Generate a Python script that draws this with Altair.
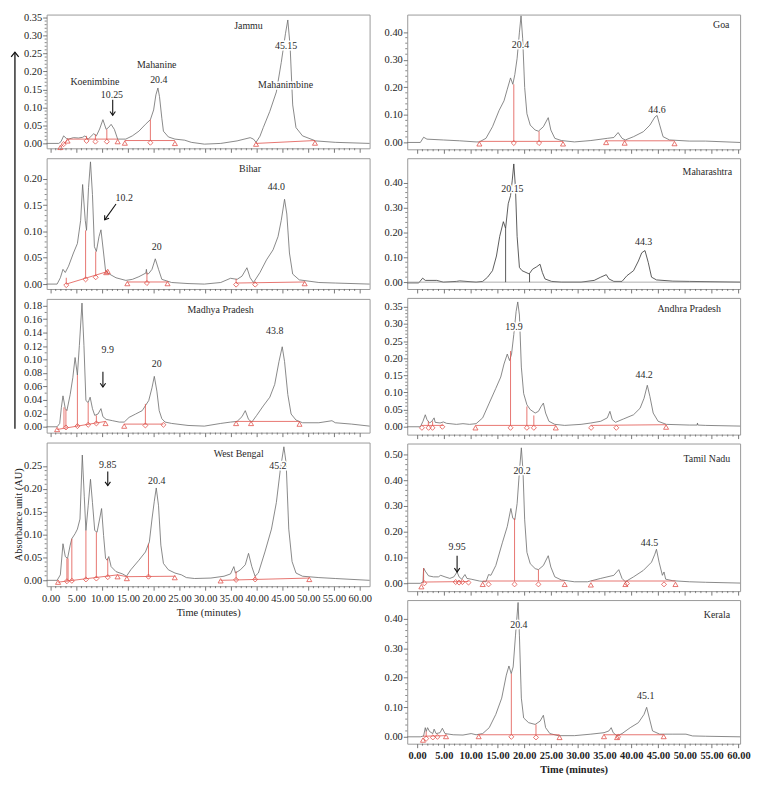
import altair as alt
import pandas as pd

RED = "#e0524c"
GRAY = "#6a6a6a"
FONT = "Liberation Serif"

# ======================= LEFT COLUMN =======================
JAMMU_CURVE = [(-0.76,0.0),(1.59,0.0),(2.03,0.005),(2.54,0.021),(3.05,0.014),(3.49,0.012),(4.44,0.016),(5.40,0.015),(6.22,0.017),(6.67,0.021),(7.30,0.012),(8.38,0.027),(8.89,0.021),(9.52,0.040),(10.16,0.066),(10.79,0.039),(11.30,0.045),(11.75,0.053),(12.38,0.039),(13.02,0.012),(14.60,0.012),(15.87,0.021),(17.14,0.034),(18.41,0.053),(19.37,0.066),(20.00,0.093),(20.44,0.135),(20.83,0.154),(21.14,0.130),(21.59,0.070),(21.90,0.034),(22.86,0.018),(24.13,0.012),(26.03,0.009),(27.30,0.003),(29.84,-0.002),(33.02,0.0),(36.19,0.007),(38.73,0.016),(39.37,0.012),(39.87,0.003),(40.63,0.020),(41.27,0.044),(42.54,0.089),(43.81,0.143),(44.76,0.225),(45.59,0.306),(46.03,0.343),(46.48,0.270),(46.98,0.107),(47.62,0.044),(48.89,0.021),(51.43,0.007),(55.24,0.003),(61.9,0.0)]
JAMMU_BASE = [(1.90,-0.011,3.30,0.010),(3.30,0.012,13.02,0.012),(14.41,0.008,24.13,0.008),(39.87,0.0,51.3,0.008)]
JAMMU_DROP = [(6.98,0.012,0.021),(8.70,0.012,0.025),(10.92,0.012,0.039),(19.37,0.008,0.066)]
JAMMU_TRI = [(1.90,-0.011),(3.30,0.007),(13.02,0.005),(14.41,0.001),(24.13,0.0),(39.87,-0.002),(51.3,0.001)]
JAMMU_DIA = [(2.54,-0.002),(6.98,0.007),(8.70,0.005),(10.92,0.005),(19.37,0.002)]
JAMMU_TEXT = [("Jammu",38.4,0.326),("45.15",45.7,0.270),("Mahanimbine",45.6,0.163),("Mahanine",20.6,0.218),("20.4",21.0,0.175),("Koenimbine",8.6,0.170),("10.25",11.9,0.134)]
JAMMU_ARROW = [(12.06,0.121,12.06,0.078)]

BIHAR_CURVE = [(-0.76,0.0),(1.27,0.0),(1.90,0.012),(2.41,0.028),(2.86,0.022),(3.49,0.034),(4.44,0.059),(5.21,0.077),(5.84,0.121),(6.22,0.189),(6.73,0.121),(6.98,0.102),(7.37,0.183),(7.75,0.232),(8.13,0.170),(8.51,0.071),(8.89,0.062),(9.40,0.090),(9.78,0.103),(10.29,0.059),(10.67,0.025),(11.43,0.019),(12.70,0.012),(14.60,0.007),(15.87,0.009),(17.14,0.014),(18.50,0.021),(18.60,0.028),(18.70,0.019),(19.05,0.020),(19.68,0.028),(20.32,0.048),(20.95,0.028),(21.59,0.009),(23.49,0.003),(26.67,0.001),(29.84,0.0),(33.02,0.003),(34.92,0.011),(36.19,0.009),(37.14,0.015),(38.10,0.031),(38.73,0.012),(39.37,0.003),(40.63,0.022),(41.90,0.046),(43.17,0.065),(44.13,0.090),(44.76,0.121),(45.40,0.161),(45.84,0.133),(46.35,0.059),(46.98,0.019),(48.25,0.008),(52.06,0.003),(55.24,0.002),(61.9,0.0)]
BIHAR_BASE = [(3.05,0.0,11.1,0.024),(14.9,0.004,22.7,0.004),(36.0,0.002,49.3,0.004)]
BIHAR_DROP = [(3.05,0.0,0.012),(6.8,0.011,0.102),(8.76,0.015,0.062),(18.7,0.004,0.022),(36.0,0.002,0.010),(39.7,0.002,0.005)]
BIHAR_TRI = [(10.8,0.022),(11.1,0.024),(14.9,0.001),(22.7,0.001),(49.3,0.001)]
BIHAR_DIA = [(3.05,-0.002),(6.8,0.009),(8.76,0.013),(18.7,0.002),(36.0,-0.001),(39.7,-0.001)]
BIHAR_TEXT = [("Bihar",38.7,0.219),("44.0",43.8,0.185),("10.2",14.3,0.164),("20",20.6,0.070)]
BIHAR_ARROW = [(12.7,0.152,10.5,0.122)]

MP_CURVE = [(-0.76,0.0),(1.27,0.0),(1.78,0.005),(2.10,0.029),(2.41,0.046),(2.86,0.027),(3.17,0.024),(3.81,0.048),(4.32,0.073),(4.76,0.103),(5.21,0.077),(5.59,0.121),(6.10,0.184),(6.48,0.121),(6.86,0.039),(7.30,0.036),(7.68,0.044),(8.13,0.027),(8.57,0.017),(9.21,0.019),(9.78,0.027),(10.16,0.015),(10.79,0.011),(12.06,0.009),(13.33,0.007),(14.29,0.007),(15.24,0.014),(16.51,0.019),(17.78,0.024),(19.05,0.039),(19.68,0.058),(20.13,0.075),(20.63,0.053),(21.08,0.024),(21.59,0.012),(22.22,0.007),(23.49,0.005),(26.67,0.002),(29.84,0.001),(33.02,0.005),(34.92,0.007),(36.19,0.008),(37.14,0.015),(37.78,0.024),(38.41,0.011),(39.05,0.007),(40.0,0.017),(41.27,0.031),(42.54,0.044),(43.49,0.063),(44.32,0.097),(44.95,0.119),(45.40,0.097),(46.03,0.048),(46.67,0.019),(47.62,0.010),(48.89,0.006),(52.06,0.006),(54.60,0.009),(55.24,0.006),(58.41,0.004),(61.9,0.001)]
MP_BASE = [(1.27,-0.004,10.67,0.008),(14.29,0.004,21.9,0.004),(36.0,0.008,48.3,0.008)]
MP_DROP = [(2.6,-0.001,0.029),(2.98,-0.001,0.026),(5.21,0.001,0.077),(7.30,0.004,0.036),(8.89,0.006,0.017),(18.4,0.004,0.034)]
MP_TRI = [(1.27,-0.004),(10.67,0.005),(14.29,0.001),(36.0,0.005),(38.9,0.005),(48.3,0.004)]
MP_DIA = [(2.98,-0.001),(5.21,0.001),(7.30,0.003),(8.89,0.005),(18.4,0.002),(21.9,0.003)]
MP_TEXT = [("Madhya Pradesh",33.0,0.173),("43.8",43.5,0.143),("9.9",11.1,0.114),("20",20.6,0.094)]
MP_ARROW = [(10.16,0.082,10.16,0.059)]

WB_CURVE = [(-0.76,0.0),(1.27,0.0),(1.90,0.012),(2.41,0.080),(2.86,0.052),(3.30,0.048),(3.81,0.077),(4.13,0.091),(4.76,0.102),(5.21,0.112),(5.71,0.134),(6.16,0.274),(6.54,0.184),(6.86,0.109),(7.30,0.163),(7.75,0.221),(8.13,0.170),(8.57,0.109),(9.02,0.105),(9.52,0.134),(9.90,0.157),(10.29,0.098),(10.67,0.048),(10.98,0.044),(11.30,0.052),(11.75,0.030),(12.70,0.019),(13.97,0.014),(14.73,0.009),(15.56,0.023),(17.14,0.044),(18.41,0.062),(19.17,0.084),(19.68,0.134),(20.13,0.173),(20.51,0.202),(20.95,0.163),(21.40,0.077),(21.90,0.037),(22.86,0.023),(24.13,0.016),(25.40,0.012),(26.35,0.006),(27.94,0.004),(31.11,0.005),(33.65,0.009),(34.92,0.014),(35.56,0.030),(35.87,0.016),(36.83,0.023),(37.78,0.034),(38.41,0.059),(39.05,0.030),(39.68,0.009),(40.32,0.016),(41.59,0.062),(42.86,0.112),(43.81,0.170),(44.57,0.241),(45.27,0.292),(45.71,0.256),(46.22,0.112),(46.86,0.041),(47.62,0.016),(48.89,0.009),(52.06,0.006),(55.24,0.004),(61.9,0.0)]
WB_BASE = [(1.46,-0.004,13.0,0.012),(13.0,0.012,14.8,0.008),(14.8,0.008,24.1,0.009),(33.0,0.0,50.2,0.005)]
WB_DROP = [(3.17,-0.002,0.048),(3.40,-0.002,0.048),(4.13,0.0,0.091),(6.86,0.003,0.109),(8.89,0.005,0.105),(11.1,0.008,0.048),(19.0,0.009,0.080),(36.0,0.002,0.020),(39.7,0.003,0.010)]
WB_TRI = [(1.46,-0.004),(13.0,0.008),(14.8,0.004),(24.1,0.006),(33.0,-0.001),(50.2,0.002)]
WB_DIA = [(3.17,-0.002),(4.13,-0.001),(6.86,0.002),(8.89,0.004),(11.1,0.007),(19.0,0.008),(36.0,0.001),(39.7,0.002)]
WB_TEXT = [("West Bengal",36.5,0.277),("45.2",44.1,0.250),("9.85",11.1,0.252),("20.4",20.6,0.218)]
WB_ARROW = [(11.1,0.238,11.1,0.207)]

# ======================= RIGHT COLUMN =======================
GOA_CURVE = [(-1.84,0.0),(0.61,0.0),(1.22,0.019),(1.84,0.012),(4.90,0.009),(7.96,0.006),(11.02,0.002),(11.63,0.002),(12.86,0.015),(14.08,0.057),(15.31,0.116),(16.23,0.151),(16.84,0.193),(17.45,0.234),(17.88,0.211),(18.25,0.246),(18.68,0.305),(19.11,0.400),(19.41,0.459),(19.72,0.376),(20.09,0.199),(20.51,0.104),(21.13,0.063),(22.05,0.045),(22.66,0.041),(23.58,0.057),(24.49,0.090),(24.98,0.045),(25.72,0.015),(26.94,0.007),(29.39,0.002),(32.45,0.007),(35.52,0.015),(36.74,0.018),(37.54,0.036),(38.27,0.015),(38.88,0.009),(40.42,0.021),(42.25,0.039),(43.48,0.063),(44.40,0.092),(44.82,0.098),(45.31,0.063),(45.93,0.021),(47.15,0.009),(50.83,0.005),(53.89,0.005),(60.32,0.0)]
GOA_BASE = [(11.63,0.004,27.25,0.004),(35.3,0.006,48.07,0.006)]
GOA_DROP = [(18.06,0.004,0.211),(22.78,0.004,0.041)]
GOA_TRI = [(11.63,-0.005),(27.25,-0.005),(35.3,0.0),(38.76,-0.002),(48.07,-0.004)]
GOA_DIA = [(18.06,-0.002),(22.78,-0.002)]
GOA_TEXT = [("Goa",56.8,0.426),("20.4",19.3,0.353),("44.6",44.8,0.116)]

MAH_CURVE = [(-1.84,-0.003),(0.31,-0.003),(1.04,0.016),(1.53,0.007),(3.67,0.007),(4.90,0.0),(7.35,0.003),(7.96,0.005),(11.02,0.0),(12.25,0.003),(13.17,0.020),(14.08,0.046),(14.82,0.105),(15.43,0.184),(16.11,0.243),(16.53,0.216),(17.02,0.315),(17.45,0.348),(17.76,0.407),(18.06,0.475),(18.37,0.380),(18.68,0.184),(19.11,0.059),(19.60,0.046),(20.94,0.033),(21.56,0.052),(22.35,0.062),(22.96,0.072),(23.39,0.039),(23.88,0.013),(25.11,0.003),(26.94,0.0),(30.62,0.0),(33.07,0.007),(34.29,0.020),(35.33,0.030),(35.82,0.013),(36.74,0.003),(38.27,0.003),(39.19,0.026),(40.42,0.046),(41.33,0.085),(41.95,0.118),(42.56,0.127),(43.17,0.079),(43.78,0.020),(44.70,0.009),(47.76,0.004),(50.83,0.003),(60.32,0.0)]
MAH_BASE = [(-1.84,0.0,60.32,0.0)]
MAH_DROP = [(16.53,0.0,0.216),(21.0,0.0,0.033)]
MAH_TEXT = [("Maharashtra",54.2,0.443),("20.15",17.8,0.374),("44.3",42.3,0.160)]

AP_CURVE = [(-1.84,0.0),(0.61,0.0),(1.10,0.016),(1.53,0.035),(1.84,0.021),(2.33,0.011),(2.76,0.016),(3.18,0.026),(3.37,0.013),(4.29,0.011),(4.90,0.014),(5.51,0.010),(7.35,0.007),(8.57,0.009),(9.80,0.007),(11.02,0.009),(12.25,0.026),(13.47,0.069),(14.70,0.112),(15.62,0.145),(16.23,0.183),(16.84,0.212),(17.27,0.193),(17.64,0.212),(18.06,0.269),(18.49,0.336),(18.80,0.364),(19.11,0.326),(19.47,0.174),(19.90,0.097),(20.51,0.064),(21.13,0.050),(22.05,0.040),(22.66,0.045),(23.15,0.059),(23.58,0.069),(24.00,0.040),(24.62,0.016),(25.72,0.007),(27.56,0.004),(30.62,0.007),(32.45,0.011),(34.29,0.016),(35.52,0.026),(36.01,0.045),(36.44,0.021),(37.05,0.013),(38.58,0.023),(40.42,0.035),(41.64,0.054),(42.38,0.083),(42.99,0.121),(43.48,0.088),(44.09,0.040),(45.01,0.016),(46.54,0.007),(50.83,0.005),(52.30,0.005),(52.36,0.011),(52.42,0.005),(53.89,0.004),(60.32,0.002)]
AP_BASE = [(0.9,0.004,4.9,0.004),(10.9,0.004,25.9,0.004),(32.5,0.004,46.5,0.006)]
AP_DROP = [(2.1,0.004,0.016),(2.9,0.004,0.016),(17.45,0.004,0.221),(20.5,0.004,0.059),(21.8,0.004,0.033)]
AP_TRI = [(10.9,-0.003),(25.9,-0.003),(46.5,-0.001)]
AP_DIA = [(0.9,-0.003),(2.14,-0.003),(2.88,-0.003),(4.72,0.0),(17.45,-0.003),(20.5,-0.003),(21.8,-0.003),(32.5,-0.003),(37.2,-0.003)]
AP_TEXT = [("Andhra Pradesh",50.8,0.343),("19.9",18.1,0.290),("44.2",42.4,0.152)]

TN_CURVE = [(-1.84,0.0),(0.61,0.0),(1.10,0.006),(1.22,0.059),(1.53,0.047),(2.14,0.029),(3.06,0.025),(3.98,0.025),(4.41,0.031),(5.21,0.025),(6.12,0.019),(6.86,0.025),(7.47,0.044),(7.84,0.025),(8.33,0.016),(8.94,0.034),(9.31,0.019),(10.10,0.016),(11.63,0.009),(12.86,0.006),(13.35,0.034),(13.78,0.031),(14.70,0.069),(15.92,0.157),(16.84,0.220),(17.51,0.290),(17.88,0.252),(18.25,0.246),(18.68,0.309),(19.11,0.434),(19.47,0.525),(19.78,0.434),(20.09,0.246),(20.51,0.120),(21.13,0.076),(22.05,0.057),(22.66,0.053),(23.58,0.069),(24.49,0.107),(24.98,0.063),(25.72,0.025),(26.94,0.013),(29.39,0.006),(31.84,0.006),(34.29,0.019),(36.74,0.031),(37.66,0.053),(38.27,0.019),(38.88,0.006),(40.42,0.025),(42.25,0.050),(43.78,0.082),(44.40,0.113),(44.70,0.132),(45.19,0.082),(45.81,0.031),(46.11,0.044),(46.42,0.016),(47.76,0.010),(50.83,0.006),(53.89,0.004),(60.32,0.001)]
TN_BASE = [(1.35,0.005,9.6,0.007),(12.25,0.009,27.56,0.009),(32.45,0.009,48.25,0.009)]
TN_DROP = [(1.22,0.0,0.059),(18.2,0.009,0.252),(22.66,0.009,0.053)]
TN_TRI = [(0.8,-0.013),(12.25,-0.004),(27.56,-0.004),(32.45,-0.006),(38.9,-0.004),(48.25,-0.004)]
TN_DIA = [(1.35,0.0),(7.2,0.005),(7.84,0.003),(8.45,0.005),(9.6,0.003),(13.35,-0.004),(18.2,-0.004),(22.66,-0.004),(39.19,-0.001),(46.11,-0.004)]
TN_TEXT = [("Tamil Nadu",54.1,0.482),("20.2",19.6,0.434),("44.5",43.4,0.155),("9.95",7.47,0.139)]
TN_ARROW = [(7.47,0.107,7.47,0.044)]

KER_CURVE = [(-1.84,0.0),(0.61,0.0),(1.22,0.003),(1.53,0.031),(1.71,0.018),(1.96,0.031),(2.33,0.018),(2.94,0.011),(3.18,0.026),(3.55,0.011),(4.29,0.014),(4.72,0.029),(5.21,0.011),(6.74,0.007),(8.57,0.006),(10.10,0.011),(11.02,0.007),(12.25,0.011),(13.47,0.031),(14.70,0.076),(15.80,0.131),(16.66,0.209),(17.15,0.240),(17.58,0.214),(17.94,0.237),(18.37,0.342),(18.86,0.455),(19.11,0.342),(19.47,0.131),(19.90,0.064),(20.82,0.048),(22.05,0.042),(22.96,0.053),(23.58,0.073),(24.00,0.031),(24.80,0.011),(26.33,0.004),(29.39,0.004),(32.45,0.009),(34.91,0.014),(35.82,0.020),(36.25,0.031),(36.62,0.014),(37.35,0.003),(38.27,0.011),(39.80,0.031),(41.33,0.048),(42.38,0.076),(42.87,0.100),(43.36,0.064),(43.97,0.020),(45.31,0.009),(47.76,0.009),(50.21,0.009),(51.44,0.003),(53.89,0.002),(60.32,0.0)]
KER_BASE = [(1.1,0.002,5.4,0.004),(11.5,0.007,26.6,0.007),(34.9,0.007,46.05,0.007)]
KER_DROP = [(1.7,0.0,0.018),(17.6,0.007,0.214),(22.2,0.007,0.042)]
KER_TRI = [(1.1,-0.011),(5.4,0.001),(11.5,0.001),(26.6,-0.002),(34.9,0.001),(37.35,-0.002),(46.05,0.001)]
KER_DIA = [(1.71,-0.006),(2.94,-0.002),(3.80,0.0),(17.6,0.0),(22.2,-0.002),(37.54,0.0)]
KER_TEXT = [("Kerala",56.0,0.411),("20.4",19.0,0.378),("45.1",42.7,0.137)]

X_LEFT = [-0.76, 61.9]
X_RIGHT = [-1.84, 60.32]
X_MAJOR = [0, 5, 10, 15, 20, 25, 30, 35, 40, 45, 50, 55, 60]
X_MINOR = [v for v in range(0, 61) if v % 5 != 0]


def x_axis(labels, title, bold):
    kw = dict(values=X_MAJOR, tickSize=4, grid=False, domain=False,
              tickColor="#555", tickWidth=0.8)
    if labels:
        kw.update(format=".2f", labelFontWeight="bold" if bold else "normal", labelPadding=3,
                  labelOverlap=False, labelFlush=False,
                  titleFontWeight="bold" if bold else "normal", titlePadding=4, title=title)
    else:
        kw.update(labels=False, title="")
    return alt.Axis(**kw)


def y_axis(major, title):
    kw = dict(values=major, tickSize=4, format=".2f", grid=False, domain=False,
              tickColor="#555", tickWidth=0.8, labelPadding=1)
    if title:
        kw.update(title=title, titlePadding=0, titleFontWeight="normal")
    else:
        kw.update(title="")
    return alt.Axis(**kw)


def panel(curve, base, drops, tri, dia, texts, arrows, ydom, ystep, yminor, ytop,
          w, h, xdom, xlabels=False, xtitle=None, ytitle=None, bold=False,
          line_color=GRAY, drop_color=RED, base_color=RED, arrow_angle=0, big_arrow=False):
    xs = alt.Scale(domain=xdom, nice=False, zero=False)
    ys = alt.Scale(domain=ydom, nice=False, zero=False)
    nmaj = int(round(ytop / ystep))
    ymaj = [round(i * ystep, 4) for i in range(nmaj + 1)]
    nmin = int(round(ytop / yminor))
    ymin = [round(i * yminor, 4) for i in range(nmin + 1)
            if abs(i * yminor / ystep - round(i * yminor / ystep)) > 1e-6]
    xa = x_axis(xlabels, xtitle, bold)
    ya = y_axis(ymaj, ytitle)

    def X(f):
        return alt.X(f, scale=xs, axis=xa)

    def Y(f):
        return alt.Y(f, scale=ys, axis=ya)

    cdf = pd.DataFrame({"t": [p[0] for p in curve], "y": [p[1] for p in curve],
                        "i": list(range(len(curve)))})
    layers = [alt.Chart(cdf).mark_line(color=line_color, strokeWidth=0.8).encode(
        x=X("t:Q"), y=Y("y:Q"), order="i:Q")]
    # minor ticks
    layers.append(alt.Chart(pd.DataFrame({"t": X_MINOR})).mark_rule(
        color="#555", strokeWidth=0.7).encode(x=X("t:Q"), y=alt.value(h), y2=alt.value(h + 2)))
    layers.append(alt.Chart(pd.DataFrame({"y": ymin})).mark_rule(
        color="#555", strokeWidth=0.7).encode(y=Y("y:Q"), x=alt.value(0), x2=alt.value(-2)))
    if base:
        bdf = pd.DataFrame(base, columns=["t", "y", "t2", "y2"])
        layers.append(alt.Chart(bdf).mark_rule(color=base_color, strokeWidth=0.8).encode(
            x=X("t:Q"), y=Y("y:Q"), x2="t2:Q", y2="y2:Q"))
    if drops:
        ddf = pd.DataFrame(drops, columns=["t", "y", "y2"])
        layers.append(alt.Chart(ddf).mark_rule(color=drop_color, strokeWidth=0.8).encode(
            x=X("t:Q"), y=Y("y:Q"), y2="y2:Q"))
    for pts, shape in ((tri, "triangle-up"), (dia, "diamond")):
        if pts:
            pdf = pd.DataFrame(pts, columns=["t", "y"])
            layers.append(alt.Chart(pdf).mark_point(shape=shape, filled=False, color=RED,
                                                    size=26, strokeWidth=0.8, opacity=1).encode(
                x=X("t:Q"), y=Y("y:Q")))
    if texts:
        tdf = pd.DataFrame(texts, columns=["label", "t", "y"])
        layers.append(alt.Chart(tdf).mark_text(font=FONT, fontSize=10, color="white",
                                               stroke="white", strokeWidth=3,
                                               baseline="middle").encode(
            x=X("t:Q"), y=Y("y:Q"), text="label:N"))
        layers.append(alt.Chart(tdf).mark_text(font=FONT, fontSize=10, color="#2a2a2a",
                                               baseline="middle").encode(
            x=X("t:Q"), y=Y("y:Q"), text="label:N"))
    if arrows:
        adf = pd.DataFrame(arrows, columns=["t", "y", "t2", "y2"])
        layers.append(alt.Chart(adf).mark_rule(color="#111", strokeWidth=1.1).encode(
            x=X("t:Q"), y=Y("y:Q"), x2="t2:Q", y2="y2:Q"))
        layers.append(alt.Chart(adf).mark_point(shape="M-0.7,-1L0,0L0.7,-1", filled=False,
                                                color="#111", size=60, strokeWidth=1.1,
                                                angle=arrow_angle, opacity=1).encode(
            x=X("t2:Q"), y=Y("y2:Q")))
    if big_arrow:
        one = pd.DataFrame({"a": [0]})
        layers.append(alt.Chart(one).mark_rule(color="#111", strokeWidth=1.3).encode(
            x=alt.value(-32), y=alt.value(38), y2=alt.value(418)))
        layers.append(alt.Chart(one).mark_point(shape="M-0.8,1L0,0L0.8,1", filled=False,
                                                color="#111", size=90, strokeWidth=1.3,
                                                opacity=1).encode(
            x=alt.value(-32), y=alt.value(38)))
    return alt.layer(*layers).properties(width=w, height=h)


LW, RW = 326, 336

jammu = panel(JAMMU_CURVE, JAMMU_BASE, JAMMU_DROP, JAMMU_TRI, JAMMU_DIA, JAMMU_TEXT, JAMMU_ARROW,
              [-0.0136, 0.358], 0.05, 0.01, 0.35, LW, 135, X_LEFT, big_arrow=True)
bihar = panel(BIHAR_CURVE, BIHAR_BASE, BIHAR_DROP, BIHAR_TRI, BIHAR_DIA, BIHAR_TEXT, BIHAR_ARROW,
              [-0.0093, 0.2389], 0.05, 0.01, 0.20, LW, 132, X_LEFT, arrow_angle=35)
mp = panel(MP_CURVE, MP_BASE, MP_DROP, MP_TRI, MP_DIA, MP_TEXT, MP_ARROW,
           [-0.0087, 0.1902], 0.02, 0.01, 0.18, LW, 135, X_LEFT)
wb = panel(WB_CURVE, WB_BASE, WB_DROP, WB_TRI, WB_DIA, WB_TEXT, WB_ARROW,
           [-0.0128, 0.3013], 0.05, 0.01, 0.25, LW, 145, X_LEFT,
           xlabels=True, xtitle="Time (minutes)", ytitle="Absorbance unit (AU)")

goa = panel(GOA_CURVE, GOA_BASE, GOA_DROP, GOA_TRI, GOA_DIA, GOA_TEXT, [],
            [-0.0248, 0.4637], 0.1, 0.02, 0.40, RW, 136, X_RIGHT)
mah = panel(MAH_CURVE, MAH_BASE, MAH_DROP, [], [], MAH_TEXT, [],
            [-0.0275, 0.498], 0.1, 0.02, 0.40, RW, 132, X_RIGHT,
            line_color="#333333", drop_color="#333333", base_color="#9a9a9a")
ap = panel(AP_CURVE, AP_BASE, AP_DROP, AP_TRI, AP_DIA, AP_TEXT, [],
           [-0.0229, 0.3758], 0.05, 0.01, 0.35, RW, 138, X_RIGHT)
tn = panel(TN_CURVE, TN_BASE, TN_DROP, TN_TRI, TN_DIA, TN_TEXT, TN_ARROW,
           [-0.0303, 0.5417], 0.1, 0.02, 0.50, RW, 149, X_RIGHT)
ker = panel(KER_CURVE, KER_BASE, KER_DROP, KER_TRI, KER_DIA, KER_TEXT, [],
            [-0.0233, 0.4633], 0.1, 0.02, 0.40, RW, 145, X_RIGHT,
            xlabels=True, xtitle="Time (minutes)", bold=True)

left = alt.vconcat(jammu, bihar, mp, wb, spacing=10, bounds="flush")
right = alt.vconcat(goa, mah, ap, tn, ker, spacing=9, bounds="flush")

chart = alt.hconcat(left, right, spacing=11).properties(
    padding=0
).configure_view(
    stroke="#9a9a9a", strokeWidth=1
).configure_axis(
    labelFont=FONT, titleFont=FONT, labelFontSize=10.5, titleFontSize=10.5,
    labelColor="#222", titleColor="#222"
).configure_text(font=FONT)

chart.save("out.html", embed_options={"renderer": "svg", "actions": False})
